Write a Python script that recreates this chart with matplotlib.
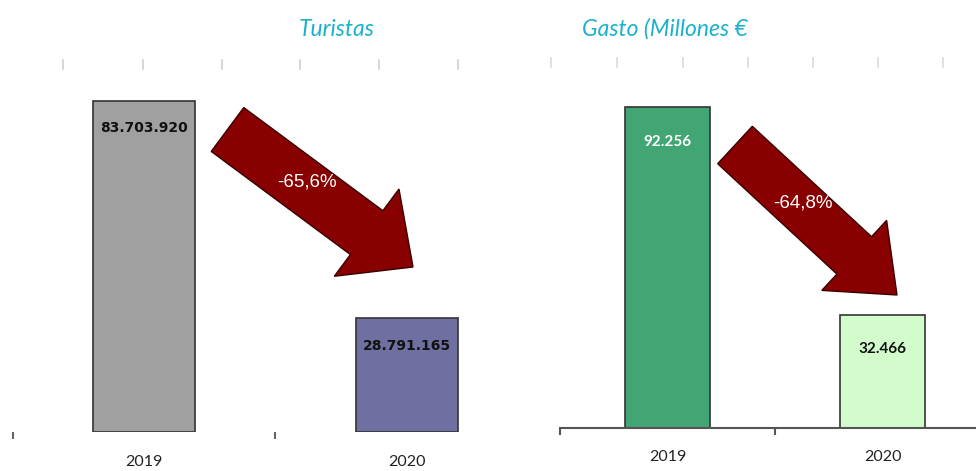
import matplotlib
matplotlib.use("Agg")
import matplotlib.pyplot as plt
from matplotlib.patches import FancyArrow
from matplotlib.transforms import Affine2D

# ---- data ----
years = ["2019", "2020"]
turistas = [83703920, 28791165]
turistas_labels = ["83.703.920", "28.791.165"]
gasto = [92256, 32466]
gasto_labels = ["92.256", "32.466"]
pct_turistas = "-65,6%"
pct_gasto = "-64,8%"
titles = ["Turistas", "Gasto (Millones €"]

W, H = 976, 471
fig = plt.figure(figsize=(W / 100, H / 100), dpi=100)
fig.patch.set_facecolor("white")

def fpos(x0, y0, x1, y1):
    # pixel box (top-left origin) -> figure fraction [l, b, w, h]
    return [x0 / W, 1 - y1 / H, (x1 - x0) / W, (y1 - y0) / H]

px = Affine2D().scale(1 / W, -1 / H).translate(0, 1) + fig.transFigure

title_color = "#1ab2cb"
edge = "#333333"

# ---- left panel: Turistas ----
axL = fig.add_axes(fpos(13, 65, 538, 432))
xs = range(len(years))
axL.bar(xs, turistas, width=0.39, color=["#a0a0a0", "#6f6fa1"],
        edgecolor=edge, linewidth=1.2)
axL.set_xlim(-0.5, 1.5)
axL.set_ylim(0, turistas[0] * 367 / 331)
for s in axL.spines.values():
    s.set_visible(False)
axL.set_yticks([])
axL.set_xticks([-0.5, 0.5])
axL.set_xticklabels([])
axL.tick_params(axis="x", length=5, width=1.5, color="#666666", direction="out")
for i, (v, lab) in enumerate(zip(turistas, turistas_labels)):
    axL.text(i, v - turistas[0] * 0.083, lab,
             ha="center", va="center", fontsize=10, fontweight="bold",
             color="#111111", family="DejaVu Sans")
for i, y in enumerate(years):
    axL.text(i, -turistas[0] * 0.09, y, ha="center", va="center",
             fontsize=11.5, color="#222222", family="Lato")

# ---- right panel: Gasto ----
axR = fig.add_axes(fpos(560, 63, 976, 428))
axR.bar(xs, gasto, width=0.395, color=["#41a674", "#d3fccd"],
        edgecolor=edge, linewidth=1.2)
axR.set_xlim(-0.5, -0.5 + 416 / 215)
axR.set_ylim(0, gasto[0] * 365 / 321)
for k in ["top", "left", "right"]:
    axR.spines[k].set_visible(False)
axR.spines["bottom"].set_color("#555555")
axR.spines["bottom"].set_linewidth(1.5)
axR.set_yticks([])
axR.set_xticks([-0.5, 0.5])
axR.set_xticklabels([])
axR.tick_params(axis="x", length=5, width=1.5, color="#555555", direction="out")
label_colors = ["white", "#111111"]
label_offsets = [0.11, 0.105]
for i, (v, lab) in enumerate(zip(gasto, gasto_labels)):
    axR.text(i, v - gasto[0] * label_offsets[i], lab, ha="center", va="center",
             fontsize=11, fontweight="bold", color=label_colors[i], family="Lato")
for i, y in enumerate(years):
    axR.text(i, -gasto[0] * 0.09, y, ha="center", va="center",
             fontsize=11.5, color="#222222", family="Lato")

# ---- titles ----
fig.text(337 / W, 1 - 29 / H, titles[0], ha="center", va="center",
         fontsize=16.5, style="italic", color=title_color, family="Lato")
fig.text(582 / W, 1 - 29 / H, titles[1], ha="left", va="center",
         fontsize=16.5, style="italic", color=title_color, family="Lato")

# ---- faint top tick marks ----
for x in [63, 143, 222, 300, 379, 458]:
    fig.add_artist(plt.Line2D([x, x], [60, 69], transform=px,
                              color="#cfcfcf", linewidth=1.2))
for x in [551, 617, 683, 748, 813, 878, 943]:
    fig.add_artist(plt.Line2D([x, x], [58, 67], transform=px,
                              color="#dadada", linewidth=1.2))

# ---- arrows ----
def arrow(tail, tip, width, head_w, head_l):
    dx, dy = tip[0] - tail[0], tip[1] - tail[1]
    a = FancyArrow(tail[0], tail[1], dx, dy, width=width, head_width=head_w,
                   head_length=head_l, length_includes_head=True,
                   transform=px, facecolor="#880000", edgecolor="#3a0000",
                   linewidth=1.0)
    fig.add_artist(a)

arrow((227.5, 129.5), (413, 267), 54.6, 108.6, 57.7)
arrow((735, 145), (897, 295), 51, 95.4, 58.3)

fig.text(307 / W, 1 - 182 / H, pct_turistas, ha="center", va="center",
         fontsize=13.5, color="white", family="Liberation Sans")
fig.text(803 / W, 1 - 203 / H, pct_gasto, ha="center", va="center",
         fontsize=13.5, color="white", family="Liberation Sans")

fig.savefig("out.png", dpi=100, facecolor="white")
